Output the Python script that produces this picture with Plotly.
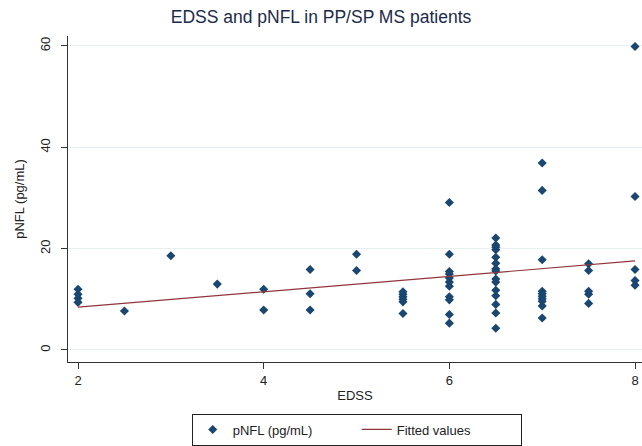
import numpy as np
import plotly.graph_objects as go

edss = ([2.0] * 4 + [2.5] + [3.0] + [3.5] + [4.0] * 2 + [4.5] * 3 + [5.0] * 2
        + [5.5] * 6 + [6.0] * 11 + [6.5] * 15 + [7.0] * 10 + [7.5] * 5 + [8.0] * 5)
pnfl = ([12.0, 11.0, 10.2, 9.4]
        + [7.7]
        + [18.6]
        + [13.0]
        + [12.0, 7.9]
        + [15.9, 11.1, 7.9]
        + [18.9, 15.7]
        + [11.5, 11.0, 10.5, 10.0, 9.5, 7.2]
        + [29.1, 18.9, 15.5, 15.0, 14.2, 13.4, 12.6, 10.5, 9.9, 7.0, 5.3]
        + [22.1, 20.7, 20.3, 19.8, 18.3, 17.1, 16.0, 15.6, 14.0, 13.4, 11.8, 10.7, 9.0, 7.3, 4.3]
        + [36.9, 31.5, 17.8, 11.6, 11.1, 10.6, 10.1, 9.6, 8.7, 6.3]
        + [17.0, 15.7, 11.6, 11.0, 9.2]
        + [59.9, 30.3, 15.9, 13.7, 12.8])

x_ticks = [2, 4, 6, 8]
y_ticks = [0, 20, 40, 60]

slope, intercept = np.polyfit(edss, pnfl, 1)
fit_x = [min(edss), max(edss)]
fit_y = [intercept + slope * v for v in fit_x]

NAVY = "#1a476f"
MAROON = "#90353b"
FONT = "Liberation Sans, Arial, sans-serif"

fig = go.Figure()
fig.add_trace(go.Scatter(
    x=edss, y=pnfl, mode="markers", name="pNFL (pg/mL)",
    marker=dict(symbol="diamond", size=7, color=NAVY, line=dict(width=0)),
))
fig.add_trace(go.Scatter(
    x=fit_x, y=fit_y, mode="lines", name="Fitted values",
    line=dict(color=MAROON, width=1.2),
))

fig.update_layout(
    width=642, height=446,
    margin=dict(l=68, r=0, t=36, b=84, autoexpand=False),
    paper_bgcolor="white", plot_bgcolor="white",
    font=dict(family=FONT, size=13, color="#222222"),
    title=dict(text="EDSS and pNFL in PP/SP MS patients", x=0.5, xanchor="center",
               y=0.977, yanchor="top",
               font=dict(family=FONT, size=17.5, color="#1c2a4a")),
    showlegend=True,
    legend=dict(orientation="h", x=0.503, xanchor="center", y=-0.158, yanchor="top",
                bordercolor="#222222", borderwidth=1, bgcolor="white",
                font=dict(family=FONT, size=13, color="#222222"),
                itemwidth=30, entrywidth=119, entrywidthmode="pixels",
                traceorder="normal"),
)
fig.update_xaxes(
    range=[1.892, 8.075], tickvals=x_ticks, ticktext=[str(v) for v in x_ticks],
    automargin=False,
    showline=True, linecolor="#333333", linewidth=1.2,
    ticks="outside", ticklen=6, tickcolor="#333333", tickwidth=1,
    showgrid=False, zeroline=False,
    title=dict(text="EDSS", standoff=4, font=dict(size=13)),
    tickfont=dict(size=13),
)
fig.update_yaxes(
    range=[-2.37, 61.97], tickvals=y_ticks, ticktext=[str(v) for v in y_ticks],
    tickangle=-90, automargin=False, ticklabelstandoff=6,
    showline=True, linecolor="#333333", linewidth=1.2,
    ticks="outside", ticklen=6, tickcolor="#333333", tickwidth=1,
    showgrid=True, gridcolor="#e8eff1", gridwidth=1, zeroline=False,
    title=dict(text="pNFL (pg/mL)", standoff=10, font=dict(size=13)),
    tickfont=dict(size=13),
)

fig.write_html("out.html", config={"displayModeBar": False},
               post_script="document.body.style.margin='0';document.body.style.padding='0';")
